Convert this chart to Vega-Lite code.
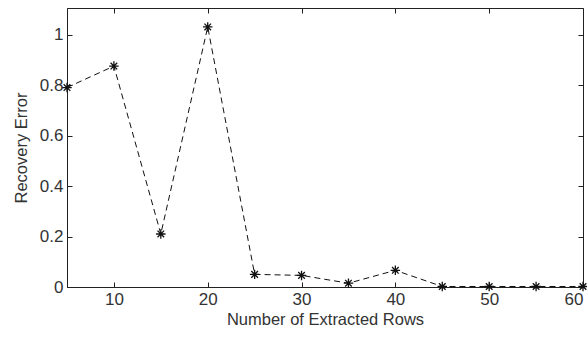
{
  "$schema": "https://vega.github.io/schema/vega-lite/v6.json",
  "width": 516,
  "height": 279,
  "autosize": {"type": "none"},
  "padding": {"left": 67, "top": 8, "right": 4, "bottom": 52},
  "background": "white",
  "config": {
    "view": {"stroke": "#222", "strokeWidth": 1},
    "axis": {
      "labelFont": "Liberation Sans",
      "titleFont": "Liberation Sans",
      "labelFontSize": 17,
      "titleFontSize": 16.5,
      "titleFontWeight": "normal",
      "labelColor": "#333333",
      "titleColor": "#333333",
      "domainColor": "#222",
      "tickColor": "#222",
      "tickSize": -5,
      "grid": false
    }
  },
  "data": {
    "values": [
      {"rows": 5, "err": 0.79},
      {"rows": 10, "err": 0.875},
      {"rows": 15, "err": 0.21},
      {"rows": 20, "err": 1.03},
      {"rows": 25, "err": 0.05},
      {"rows": 30, "err": 0.046},
      {"rows": 35, "err": 0.015},
      {"rows": 40, "err": 0.066},
      {"rows": 45, "err": 0.002},
      {"rows": 50, "err": 0.002},
      {"rows": 55, "err": 0.002},
      {"rows": 60, "err": 0.002}
    ]
  },
  "layer": [
    {
      "mark": {"type": "line", "color": "#111", "strokeWidth": 1, "strokeDash": [6, 4], "clip": true},
      "encoding": {
        "x": {"field": "rows", "type": "quantitative", "scale": {"domain": [5, 60], "nice": false, "zero": false},
          "axis": {"title": "Number of Extracted Rows", "values": [10, 20, 30, 40, 50, 60], "labelPadding": 9, "titlePadding": 4, "orient": "bottom"}},
        "y": {"field": "err", "type": "quantitative", "scale": {"domain": [0, 1.105], "nice": false},
          "axis": {"title": "Recovery Error", "values": [0, 0.2, 0.4, 0.6, 0.8, 1], "format": "~g", "labelPadding": 9, "titlePadding": 10, "orient": "left"}}
      }
    },
    {
      "mark": {"type": "point", "shape": "M -1 0 L 1 0 M 0 -1 L 0 1 M -0.7 -0.7 L 0.7 0.7 M -0.7 0.7 L 0.7 -0.7", "filled": false, "stroke": "#111", "strokeWidth": 1.3, "size": 90, "opacity": 1},
      "encoding": {
        "x": {"field": "rows", "type": "quantitative", "axis": {"orient": "top", "values": [10, 20, 30, 40, 50, 60], "labels": false, "title": null, "domain": false}},
        "y": {"field": "err", "type": "quantitative", "axis": {"orient": "right", "values": [0, 0.2, 0.4, 0.6, 0.8, 1], "labels": false, "title": null, "domain": false}}
      }
    }
  ],
  "resolve": {"axis": {"x": "independent", "y": "independent"}}
}
